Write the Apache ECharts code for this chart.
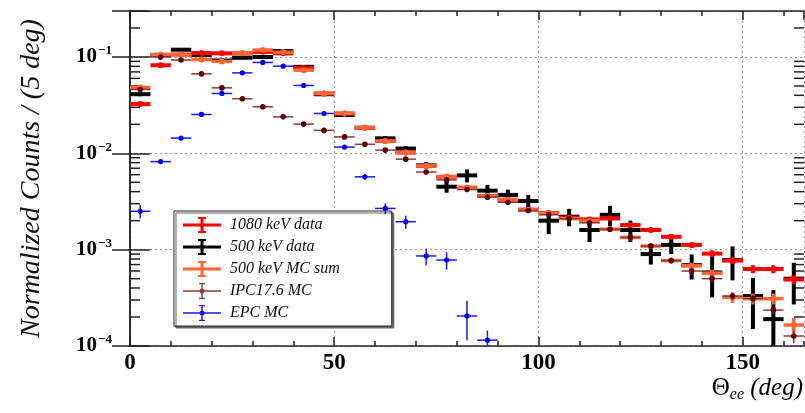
<!DOCTYPE html>
<html>
<head>
<meta charset="utf-8">
<script src="https://cdn.jsdelivr.net/npm/echarts@6/dist/echarts.min.js"></script>
<style>
  html, body { margin: 0; padding: 0; background: #fff; }
  #chart { width: 805px; height: 413px; }
</style>
</head>
<body>
<div id="chart"></div>
<script>
  // bin centres (5 deg bins)
  var binCenters = [2.5, 7.5, 12.5, 17.5, 22.5, 27.5, 32.5, 37.5, 42.5, 47.5, 52.5, 57.5, 62.5, 67.5, 72.5, 77.5, 82.5,
    87.5, 92.5, 97.5, 102.5, 107.5, 112.5, 117.5, 122.5, 127.5, 132.5, 137.5, 142.5, 147.5, 152.5, 157.5, 162.5];

  // 1080 keV data
  var data1080 = [0.0324, 0.082, 0.106, 0.110, 0.109, 0.109, 0.113, 0.109, 0.077, 0.0418, 0.0259, 0.0184, 0.0134, 0.0102,
    0.0074, 0.0057, 0.0044, 0.0036, 0.0033, 0.0026, 0.0024, 0.00215, 0.00206, 0.00211, 0.0018, 0.0016, 0.00136, 0.00112,
    0.00091, 0.00077, 0.00063, 0.00063, 0.00049];
  var err1080 = [0.0012, 0.002, 0.002, 0.002, 0.002, 0.002, 0.002, 0.002, 0.0017, 0.001, 0.0007, 0.0005, 0.0004, 0.0003,
    0.00025, 0.0002, 0.00017, 0.00015, 0.00014, 0.00012, 0.00011, 0.0001, 0.0001, 0.0001, 0.00009, 0.00009, 0.00008,
    0.00007, 0.00007, 0.00006, 0.00006, 0.00006, 0.00005];

  // 500 keV data
  var data500 = [0.0411, 0.105, 0.119, 0.105, 0.092, 0.098, 0.100, 0.115, 0.079, 0.041, 0.025, 0.0184, 0.0143, 0.0112,
    0.0075, 0.0045, 0.0059, 0.0041, 0.0037, 0.0032, 0.0020, 0.0022, 0.0016, 0.0023, 0.0016, 0.0009, 0.00112, 0.00069,
    0.00058, 0.00078, 0.00033, 0.00019, 0.0005];
  var err500 = [0.002, 0.003, 0.004, 0.003, 0.003, 0.003, 0.003, 0.003, 0.0025, 0.0016, 0.0011, 0.0009, 0.0008, 0.0007,
    0.0006, 0.0006, 0.0009, 0.0006, 0.0005, 0.0005, 0.00055, 0.00045, 0.0004, 0.00055, 0.0004, 0.0002, 0.00022, 0.0002,
    0.00026, 0.0003, 0.00018, 0.00019, 0.00023];

  // 500 keV MC sum
  var mcSum = [0.0483, 0.106, 0.106, 0.094, 0.090, 0.109, 0.118, 0.112, 0.073, 0.0418, 0.0259, 0.0184, 0.0134, 0.0102,
    0.0074, 0.0057, 0.0044, 0.0036, 0.0033, 0.0026, 0.0024, 0.0021, 0.0020, 0.00163, 0.00134, 0.00109, 0.00077, 0.00068,
    0.00057, 0.00032, 0.00031, 0.00031, 0.000165];
  var mcSumErr = [0.001, 0.0015, 0.0015, 0.0015, 0.0015, 0.0015, 0.0015, 0.0015, 0.0012, 0.0008, 0.0005, 0.0004, 0.0003,
    0.00025, 0.0002, 0.00015, 0.00013, 0.00012, 0.0001, 0.0001, 0.0001, 0.00009, 0.00009, 0.00008, 0.00007, 0.00006,
    0.00005, 0.00005, 0.00005, 0.00004, 0.00004, 0.00004, 0.00003];

  // IPC17.6 MC
  var ipc = [0.046, 0.100, 0.093, 0.0668, 0.0478, 0.0368, 0.0304, 0.0239, 0.0201, 0.0173, 0.0148, 0.0124, 0.0108, 0.0087,
    0.0064, 0.0053, 0.0042, 0.0035, 0.0031, 0.00255, 0.0023, 0.0021, 0.0019, 0.00163, 0.00134, 0.00109, 0.00077, 0.0006,
    0.0005, 0.00033, 0.00031, 0.000236, 0.000127];
  var ipcErr = [0.0012, 0.002, 0.002, 0.0015, 0.0012, 0.001, 0.0009, 0.0007, 0.0006, 0.0005, 0.0004, 0.0004, 0.0003,
    0.0003, 0.0002, 0.0002, 0.00015, 0.00013, 0.00012, 0.0001, 0.0001, 0.00009, 0.00009, 0.00008, 0.00007, 0.00006,
    0.00005, 0.00005, 0.00004, 0.00003, 0.00003, 0.00002, 0.00002];

  // EPC MC
  var epc = [0.0025, 0.0082, 0.0144, 0.0253, 0.0418, 0.0684, 0.0877, 0.0803, 0.0506, 0.0259, 0.0116, 0.0057, 0.00268,
    0.00195, 0.00086, 0.00078, 0.000205, 0.000115];
  var epcErr = [0.0004, 0.0004, 0.0005, 0.0006, 0.0008, 0.001, 0.0012, 0.0011, 0.0009, 0.0006, 0.0004, 0.0004, 0.00034,
    0.0003, 0.00017, 0.00016, 0.00009, 0.00003];

  // y minor ticks (2..9 per decade)
  var minorTicks = [];
  [1e-4, 1e-3, 1e-2, 1e-1].forEach(function (d) {
    for (var k = 2; k <= 9; k++) {
      if (d * k <= 0.3) minorTicks.push([0, d * k]);
    }
  });

  var binHalf = 2.5;
  var serif = 'Liberation Serif, Times New Roman, serif';

  function points(xs, ys, es) {
    var out = [];
    for (var i = 0; i < ys.length; i++) out.push([xs[i], ys[i], es[i]]);
    return out;
  }

  // error-bar cross: horizontal bin width + vertical error
  function errRenderer(cfg) {
    return function (params, api) {
      var x = api.value(0), y = api.value(1), e = api.value(2);
      var c = api.coord([x, y]);
      var l = api.coord([x - binHalf, y]);
      var r = api.coord([x + binHalf, y]);
      var bottom = params.coordSys.y + params.coordSys.height;
      var hi = api.coord([x, y + e])[1];
      var lo = (y - e > 0) ? api.coord([x, y - e])[1] : bottom + 10;
      var kids = [
        { type: 'line', shape: { x1: l[0], y1: c[1], x2: r[0], y2: c[1] }, style: { stroke: cfg.color, lineWidth: cfg.width } },
        { type: 'line', shape: { x1: c[0], y1: hi, x2: c[0], y2: lo }, style: { stroke: cfg.color, lineWidth: cfg.width } }
      ];
      if (cfg.dot) {
        kids.push({ type: 'circle', shape: { cx: c[0], cy: c[1], r: cfg.dot }, style: { fill: cfg.dotColor || cfg.color } });
      }
      return { type: 'group', children: kids };
    };
  }

  var thickIcon = 'path://M0,6.5h38v3h-38z M17.5,0h3v16h-3z M15,0h8v2h-8z M15,14h8v2h-8z';
  var thinIcon = 'path://M0,7.3h38v1.4h-38z M18.3,0h1.4v16h-1.4z M16,0h6v1.2h-6z M16,14.8h6v1.2h-6z M21.5,8a2.5,2.5 0 1,1 -5,0a2.5,2.5 0 1,1 5,0z';

  var myChart = echarts.init(document.getElementById('chart'), null, { renderer: 'canvas' });

  var axisLineStyle = { color: '#222', width: 1.5 };

  var option = {
    backgroundColor: '#fff',
    animation: false,
    grid: { left: 130, right: 1, top: 11, bottom: 67 },
    legend: {
      orient: 'vertical',
      left: 174,
      top: 211,
      padding: [6, 52, 5, 9],
      itemGap: 6,
      itemWidth: 38,
      itemHeight: 16,
      backgroundColor: '#fff',
      borderColor: '#222',
      borderWidth: 1,
      shadowColor: '#666',
      shadowOffsetX: 2,
      shadowOffsetY: 2,
      shadowBlur: 0,
      textStyle: { fontFamily: serif, fontStyle: 'italic', fontSize: 16, color: '#111', padding: [0, 0, 0, 4] },
      data: [
        { name: '1080 keV data', icon: thickIcon },
        { name: '500 keV data', icon: thickIcon },
        { name: '500 keV MC sum', icon: thickIcon },
        { name: 'IPC17.6 MC', icon: thinIcon },
        { name: 'EPC MC', icon: thinIcon }
      ]
    },
    xAxis: [{
      type: 'value', min: 0, max: 165, interval: 50, position: 'bottom',
      axisLine: { show: true, lineStyle: axisLineStyle },
      axisTick: { show: true, inside: true, length: 9, lineStyle: axisLineStyle },
      axisLabel: {
        margin: 6, fontFamily: serif, fontWeight: 'bold', fontSize: 23, color: '#000',
        showMaxLabel: false,
        formatter: function (v) { return (v % 50 === 0 && v <= 150) ? String(v) : ''; }
      },
      splitLine: { show: true, lineStyle: { type: [2, 3], color: '#999', width: 1.2 } }
    }, {
      type: 'value', min: 0, max: 165, interval: 10, position: 'bottom',
      axisLine: { show: false },
      axisTick: { show: true, inside: true, length: 5, lineStyle: axisLineStyle },
      axisLabel: { show: false }, splitLine: { show: false }
    }, {
      type: 'value', min: 0, max: 165, interval: 10, position: 'top',
      axisLine: { show: true, lineStyle: axisLineStyle },
      axisTick: { show: true, inside: true, length: 5, lineStyle: axisLineStyle },
      axisLabel: { show: false }, splitLine: { show: false }
    }, {
      type: 'value', min: 0, max: 165, interval: 50, position: 'top',
      axisLine: { show: false },
      axisTick: { show: true, inside: true, length: 9, lineStyle: axisLineStyle },
      axisLabel: { show: false }, splitLine: { show: false }
    }],
    yAxis: [{
      type: 'log', logBase: 10, min: 1e-4, max: 0.3, position: 'left',
      name: 'Normalized Counts / (5 deg)',
      nameLocation: 'middle', nameRotate: 90, nameGap: 84,
      nameTextStyle: { fontFamily: serif, fontStyle: 'italic', fontSize: 28, color: '#111' },
      axisLine: { show: true, lineStyle: axisLineStyle },
      axisTick: { show: true, inside: true, length: 20, lineStyle: axisLineStyle },
      axisLabel: {
        margin: 18, color: '#000',
        formatter: function (v) {
          var p = Math.log(v) / Math.LN10;
          var n = Math.round(p);
          if (Math.abs(p - n) > 1e-6 || v > 0.2) return '';
          return '{b|10}{s|' + (n < 0 ? '\u2212' : '') + Math.abs(n) + '}';
        },
        rich: {
          b: { fontFamily: serif, fontWeight: 'bold', fontSize: 21, color: '#000' },
          s: { fontFamily: serif, fontWeight: 'bold', fontSize: 13, color: '#000', padding: [0, 0, 12, 1] }
        }
      },
      splitLine: { show: true, lineStyle: { type: [2, 3], color: '#999', width: 1.2 } }
    }, {
      type: 'log', logBase: 10, min: 1e-4, max: 0.3, position: 'right',
      axisLine: { show: true, lineStyle: axisLineStyle },
      axisTick: { show: true, inside: true, length: 18, lineStyle: axisLineStyle },
      axisLabel: { show: false }, splitLine: { show: false }
    }],
    graphic: [{
      type: 'text',
      right: 2,
      top: 376,
      style: {
        text: '{t|\u0398}{s|ee}{i| (deg)}',
        rich: {
          t: { fontFamily: serif, fontSize: 25, color: '#111' },
          i: { fontFamily: serif, fontStyle: 'italic', fontSize: 25, color: '#111' },
          s: { fontFamily: serif, fontStyle: 'italic', fontSize: 16, color: '#111', padding: [12, 0, 0, 0] }
        }
      }
    }],
    series: [{
      // minor ticks of the log axis, left and right frame
      type: 'custom', silent: true, xAxisIndex: 0, yAxisIndex: 0, z: 1,
      data: minorTicks,
      renderItem: function (params, api) {
        var yy = api.coord([0, api.value(1)])[1];
        var x0 = params.coordSys.x, x1 = params.coordSys.x + params.coordSys.width;
        return {
          type: 'group', children: [
            { type: 'line', shape: { x1: x0, y1: yy, x2: x0 + 10, y2: yy }, style: { stroke: '#222', lineWidth: 1.5 } },
            { type: 'line', shape: { x1: x1 - 10, y1: yy, x2: x1, y2: yy }, style: { stroke: '#222', lineWidth: 1.5 } }
          ]
        };
      }
    }, {
      name: '1080 keV data', type: 'custom', clip: true, z: 3,
      itemStyle: { color: '#ff0000' },
      data: points(binCenters, data1080, err1080),
      renderItem: errRenderer({ color: '#ff0000', width: 4, dot: 3 })
    }, {
      name: '500 keV data', type: 'custom', clip: true, z: 2,
      itemStyle: { color: '#000000' },
      data: points(binCenters, data500, err500),
      renderItem: errRenderer({ color: '#000000', width: 4 })
    }, {
      name: '500 keV MC sum', type: 'custom', clip: true, z: 4,
      itemStyle: { color: '#ff6633' },
      data: points(binCenters, mcSum, mcSumErr),
      renderItem: errRenderer({ color: '#ff6633', width: 3.5, dot: 3 })
    }, {
      name: 'IPC17.6 MC', type: 'custom', clip: true, z: 5,
      itemStyle: { color: '#8b3a3a' },
      data: points(binCenters, ipc, ipcErr),
      renderItem: errRenderer({ color: '#8b3a3a', width: 1.5, dot: 2.8, dotColor: '#5a0000' })
    }, {
      name: 'EPC MC', type: 'custom', clip: true, z: 6,
      itemStyle: { color: '#1a1aff' },
      data: points(binCenters, epc, epcErr),
      renderItem: errRenderer({ color: '#1a1aff', width: 1.5, dot: 2.6, dotColor: '#0000ee' })
    }]
  };

  myChart.setOption(option);
</script>
</body>
</html>
